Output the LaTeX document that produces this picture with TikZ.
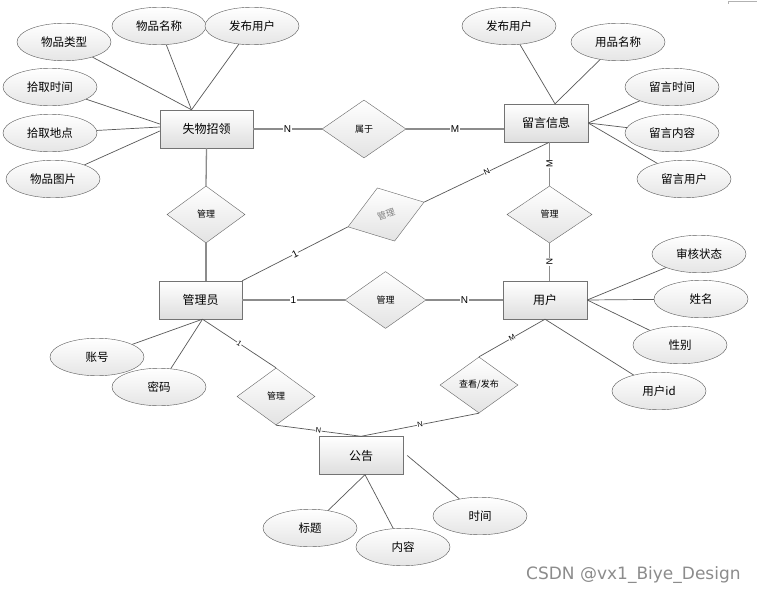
\documentclass[tikz,border=0pt]{standalone}
\usepackage{fontspec}
\newfontfamily\cjk{Noto Sans CJK SC}
\newfontfamily\lab{Liberation Sans}
\newfontfamily\wmfont{DejaVu Sans}
\usetikzlibrary{shapes.geometric}
\begin{document}
\begin{tikzpicture}[x=1pt,y=-1pt,
 ent/.style={draw=black!55, top color=white, bottom color=black!13, minimum width=84pt, minimum height=38pt, inner sep=0pt, font=\cjk\fontsize{12}{12}\selectfont},
 attr/.style={ellipse, draw=black!65, top color=white, bottom color=black!10, minimum width=94pt, minimum height=37.5pt, inner sep=0pt, font=\cjk\fontsize{11.5}{12}\selectfont},
 rel/.style={diamond, draw=black!60, top color=white, bottom color=black!11, minimum width=80pt, minimum height=57pt, inner sep=0pt, font=\cjk\fontsize{9}{9}\selectfont},
 al/.style={draw=black!65, line width=0.7pt},
 rl/.style={draw=black!45, line width=1.3pt},
 lb/.style={fill=white, inner sep=0.6pt, font=\lab\fontsize{10}{10}\selectfont},
 ls/.style={fill=white, inner sep=0.4pt, font=\lab\fontsize{8}{8}\selectfont, sloped},
]
\fill[white] (0,0) rectangle (757,594);
\useasboundingbox (0,0) rectangle (757,594);
\draw[black!30, line width=0.8pt] (728.5,4) -- (728.5,1) -- (757,1);

% entities
\node[ent, minimum width=93pt] (sw) at (206.5,129) {失物招领};
\node[ent] (ly) at (546,123) {留言信息};
\node[ent, minimum width=83pt] (gly) at (200.5,300) {管理员};
\node[ent] (yh) at (545,300) {用户};
\node[ent] (gg) at (361,455.5) {公告};

% attributes
\node[attr] (a1) at (64,42) {物品类型};
\node[attr] (a2) at (159,26) {物品名称};
\node[attr] (a3) at (252,26) {发布用户};
\node[attr] (a4) at (50,87) {拾取时间};
\node[attr] (a5) at (50,133) {拾取地点};
\node[attr] (a6) at (53,179) {物品图片};
\node[attr] (b1) at (509,26) {发布用户};
\node[attr] (b2) at (618,42) {用品名称};
\node[attr] (b3) at (672,87) {留言时间};
\node[attr] (b4) at (672,133) {留言内容};
\node[attr] (b5) at (684,179) {留言用户};
\node[attr] (c1) at (699,254) {审核状态};
\node[attr] (c2) at (701,299) {姓名};
\node[attr] (c3) at (680,345) {性别};
\node[attr] (c4) at (659,391) {用户id};
\node[attr] (d1) at (97,357) {账号};
\node[attr] (d2) at (159,387) {密码};
\node[attr] (e1) at (310,528) {标题};
\node[attr] (e2) at (403,547) {内容};
\node[attr] (e3) at (480,516) {时间};

% relationships
\node[rel, minimum width=84pt, minimum height=58pt] (r1) at (364,129) {属于};
\node[rel, minimum width=78pt] (r2) at (206,214.5) {管理};
\node[rel, minimum width=80pt, minimum height=56pt, rotate=18, text=black!50] (r3) at (386,214.5) {管理};
\node[rel, minimum width=85pt] (r4) at (549.5,214.5) {管理};
\node[rel, minimum width=81pt] (r5) at (385.5,300) {管理};
\node[rel, minimum width=78pt] (r6) at (276,396.5) {管理};
\node[rel, minimum width=78pt, minimum height=56pt] (r7) at (479,385) {查看/发布};

% relationship connectors
\draw[rl] (sw.east) -- node[lb]{N} (r1.west);
\draw[rl] (r1.east) -- node[lb]{M} (r1.east -| ly.west);
\draw[rl] (sw.south) -- (r2.north);
\draw[rl] (r2.south) -- (r2.south |- gly.north);
\draw[al] (gly.north east) -- node[ls, font=\lab\fontsize{10}{10}\selectfont]{1} (r3.west);
\draw[al] (r3.east) -- node[ls]{N} (r4.north |- ly.south);
\draw[rl] (r4.north) -- node[ls, font=\lab\fontsize{9}{9}\selectfont]{M} (r4.north |- ly.south);
\draw[rl] (r4.south) -- node[ls, font=\lab\fontsize{9}{9}\selectfont]{N} (r4.south |- yh.north);
\draw[rl] (gly.east) -- node[lb]{1} (r5.west);
\draw[rl] (r5.east) -- node[lb]{N} (yh.west);
\draw[al] ([xshift=2pt]gly.south) -- node[ls, font=\lab\fontsize{7.5}{7.5}\selectfont]{1} (r6.north);
\draw[al] (r6.south) -- node[ls, font=\lab\fontsize{7.5}{7.5}\selectfont]{N} (gg.north);
\draw[al] (r7.south) -- node[ls, font=\lab\fontsize{7.5}{7.5}\selectfont]{N} (gg.north);
\draw[al] (yh.south) -- node[ls, font=\lab\fontsize{7.5}{7.5}\selectfont]{M} (r7.north);

% attribute connectors
\draw[al] ([xshift=-15pt]sw.north) -- (a1);
\draw[al] ([xshift=-15pt]sw.north) -- (a2);
\draw[al] ([xshift=-15pt]sw.north) -- (a3);
\draw[al] ([yshift=5pt]sw.west) -- (a4);
\draw[al] ([yshift=2pt]sw.west) -- (a5);
\draw[al] ([yshift=-2pt]sw.west) -- (a6);
\draw[al] ([xshift=9pt]ly.north) -- (b1);
\draw[al] ([xshift=9pt]ly.north) -- (b2);
\draw[al] (ly.east) -- (b3);
\draw[al] (ly.east) -- (b4);
\draw[al] (ly.east) -- (b5);
\draw[al] (yh.east) -- (c1);
\draw[al] (yh.east) -- (c2);
\draw[al] (yh.east) -- (c3);
\draw[al] (yh.south) -- (c4);
\draw[al] ([xshift=2pt]gly.south) -- (d1);
\draw[al] ([xshift=2pt]gly.south) -- (d2);
\draw[al] ([xshift=4pt]gg.south) -- (e1);
\draw[al] ([xshift=4pt]gg.south) -- (e2);
\draw[al] ([xshift=4pt]gg.east) -- (e3);

% watermark
\node[anchor=base west, inner sep=0pt, text=black!45, font=\wmfont\fontsize{17}{17}\selectfont] (wm) at (526,579) {CSDN @vx1\_Biye\_Design};
\end{tikzpicture}
\end{document}
